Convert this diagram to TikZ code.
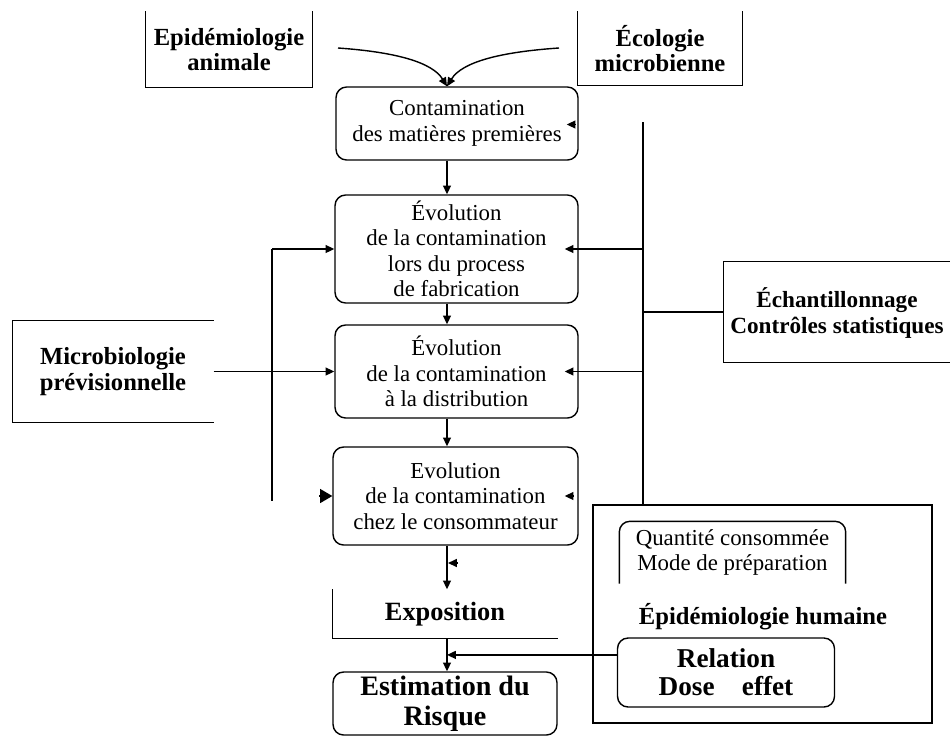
\documentclass[tikz,border=0pt]{standalone}
\usepackage{fontspec}
\setmainfont{Liberation Serif}
\usetikzlibrary{arrows.meta,calc}
\begin{document}
\begin{tikzpicture}[x=0.02cm,y=-0.02cm,
  line width=0.8pt,
  arr/.style={-{Triangle[length=5pt,width=4.5pt]}},
  bigarr/.style={-{Triangle[length=7pt,width=8pt]}},
  reg/.style={font=\fontsize{13}{14.5}\selectfont, align=center, inner sep=0pt},
  bld/.style={font=\bfseries\fontsize{14}{14.5}\selectfont, align=center, inner sep=0pt},
  rbox/.style={draw, rounded corners=6pt},
]
\useasboundingbox (0,0) rectangle (950,738);

% top boxes (open at top)
\node[bld, minimum width=3.32cm, minimum height=1.5cm] (epia) at (229,49.5) {Epidémiologie\\animale};
\draw (epia.north west) -- (epia.south west) -- (epia.south east) -- (epia.north east);
\node[bld, minimum width=3.28cm, minimum height=1.46cm] (eco) at (660,48.5) {Écologie\\microbienne};
\draw (eco.north west) -- (eco.south west) -- (eco.south east) -- (eco.north east);

% main chain
\node[reg, rbox, minimum width=4.84cm, minimum height=1.46cm] (cont) at (457,123.5) {Contamination\\des matières premières};
\node[reg, rbox, minimum width=4.86cm, minimum height=2.16cm] (evo1) at (456.5,249) {Évolution\\de la contamination\\lors du process\\de fabrication};
\node[reg, rbox, minimum width=4.86cm, minimum height=1.86cm] (evo2) at (456.5,371.5) {Évolution\\de la contamination\\à la distribution};
\node[reg, rbox, minimum width=4.9cm, minimum height=1.96cm] (evo3) at (455.5,496) {Evolution\\de la contamination\\chez le consommateur};
\node[bld, font=\bfseries\fontsize{15}{16}\selectfont, minimum width=4.48cm, minimum height=0.96cm] (expo) at (445,614) {Exposition};
\draw (expo.north west) -- (expo.south west) -- (expo.south east);
\node[bld, rbox, font=\bfseries\fontsize{16}{17}\selectfont, minimum width=4.48cm, minimum height=1.26cm] (est) at (445,703.5) {Estimation du\\Risque};

% left box (open at right)
\node[bld, minimum width=4.0cm, minimum height=2.02cm] (micro) at (113,371.5) {Microbiologie\\prévisionnelle};
\draw (micro.north east) -- (micro.north west) -- (micro.south west) -- (micro.south east);

% right box (runs past the right edge)
\node[minimum width=4.84cm, minimum height=2.0cm, inner sep=0pt] (echant) at (845,312) {};
\draw (echant.north east) -- (echant.north west) -- (echant.south west) -- (echant.south east);
\node[bld, font=\bfseries\fontsize{13.2}{14.5}\selectfont] (echtxt) at (837,313) {Échantillonnage\\Contrôles statistiques};

% human epidemiology block
\node[draw, minimum width=6.78cm, minimum height=4.36cm] (outer) at (762.5,614) {};
\node[reg, minimum width=4.5cm, minimum height=1.22cm] (quant) at (732.5,552.5) {Quantité consommée\\Mode de préparation};
\draw[rounded corners=6pt] (quant.south west) -- (quant.north west) -- (quant.north east) -- (quant.south east);
\node[bld] (hum) at (763,617) {Épidémiologie humaine};
\node[bld, rbox, font=\bfseries\fontsize{15.5}{16}\selectfont, minimum width=4.34cm, minimum height=1.38cm] (rel) at (726,672.5) {Relation\\Dose\hspace{1em}effet};

% connectors
\coordinate (col) at (447,0);
\coordinate (cl) at (338,48);
\coordinate (cr) at (559,48);
\draw[arr] (cl) .. controls (395,52) and (432,62) .. (cont.north -| col);
\draw[arr] (cr) .. controls (500,52) and (462,62) .. (cont.north -| col);

\draw[arr] (cont.south -| col) -- (evo1.north -| col);
\draw[arr] (evo1.south -| col) -- (evo2.north -| col);
\draw[arr] (evo2.south -| col) -- (evo3.north -| col);
\draw[arr] (evo3.south -| col) -- (expo.north -| col);
\draw[arr] (expo.south -| col) -- (est.north -| col);

% right bus
\coordinate (rtop) at (643,122);
\draw (rtop) -- (rtop |- outer.north);
\draw[arr] (evo1.east -| rtop) -- ($(evo1.east)+(-14,0)$);
\draw[arr] (evo2.east -| rtop) -- ($(evo2.east)+(-14,0)$);
\draw (echant.west -| rtop) -- (echant.west);
\coordinate (tc) at ($(cont.east)+(-3,1)$);
\draw[arr] (tc) -- ++(-9,0);
\coordinate (te) at ($(evo3.east)+(-5,0)$);
\draw[arr] (te) -- ++(-9,0);

% left bus
\coordinate (lx) at (272,0);
\coordinate (lbot) at (272,501);
\draw[arr] (evo1.west -| lx) -- (evo1.west);
\draw (evo1.west -| lx) -- (lbot);
\coordinate (tw) at ($(evo3.west)+(-13,0)$);
\draw[bigarr] (tw) -- (evo3.west);
\draw[arr] (micro.east) -- (evo2.west);

% lower links
\coordinate (tq) at ($(col)+(11,563)$);
\draw[arr] (tq) -- ++(-10,0);
\coordinate (rin) at ($(rel.north west)!0.25!(rel.south west)$);
\draw[arr] (rin) -- (rin -| col);
\end{tikzpicture}
\end{document}
